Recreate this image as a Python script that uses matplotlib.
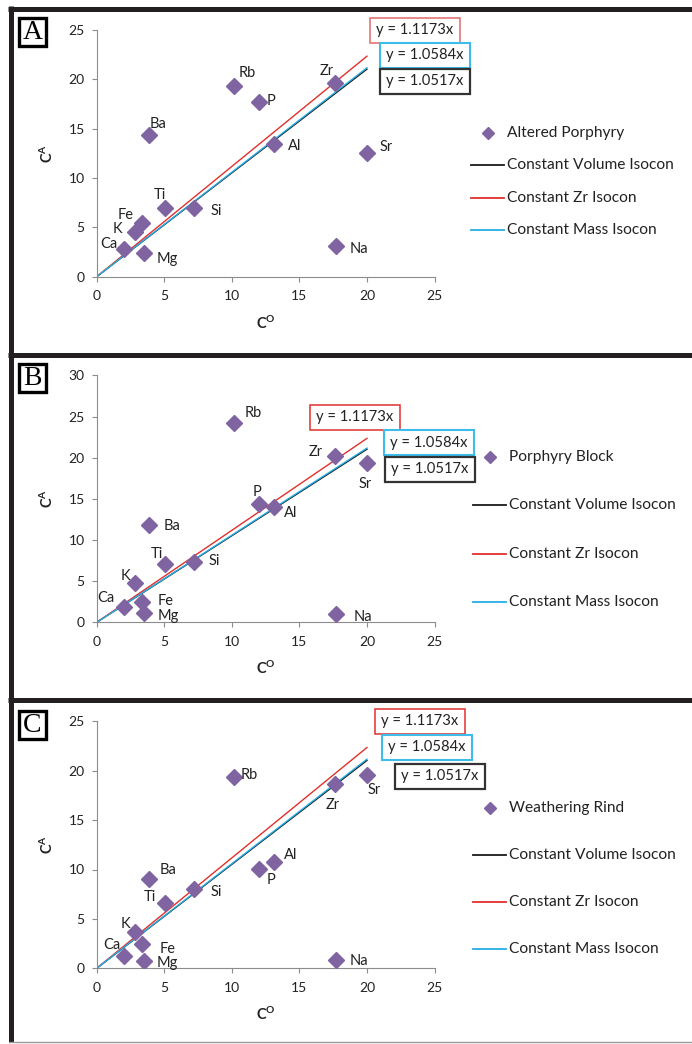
import matplotlib

matplotlib.use("Agg")
import matplotlib.pyplot as plt
from matplotlib.lines import Line2D
from matplotlib.patches import Rectangle

W, H = 692, 1044

# ---- data -------------------------------------------------------------
elements = ["Ca", "K", "Fe", "Mg", "Ti", "Si", "Ba", "Rb", "P", "Al", "Zr", "Na", "Sr"]
c_orig = [2.05, 2.81, 3.33, 3.5, 5.04, 7.2, 3.9, 10.15, 12.0, 13.1, 17.65, 17.7, 20.0]
c_altered = [2.77, 4.56, 5.47, 2.36, 6.99, 6.99, 14.36, 19.32, 17.7, 13.41, 19.66, 3.1, 12.5]
c_block = [1.9, 4.82, 2.47, 1.17, 7.04, 7.37, 11.86, 24.2, 14.33, 13.97, 20.24, 1.01, 19.35]
c_rind = [1.25, 3.71, 2.46, 0.74, 6.58, 7.99, 9.04, 19.33, 10.02, 10.76, 18.62, 0.84, 19.53]
series_names = ["Altered Porphyry", "Porphyry Block", "Weathering Rind"]
panel_letters = ["A", "B", "C"]

iso_names = ["Constant Volume Isocon", "Constant Zr Isocon", "Constant Mass Isocon"]
iso_slopes = [1.0517, 1.1173, 1.0584]
iso_x = [0, 20]

# ---- styling / positions (pixels of the 692x1044 canvas) -------------
PURPLE = "#8064A2"
ISO_COLORS = ["#1a1a1a", "#E0302C", "#25AEE4"]
SPINE = "#8c8c8c"
INK = "#222222"

# axes rectangles: left, top, right, bottom (px)
AX_PX = [(96.7, 30.0, 434.5, 276.7), (96.7, 375.4, 434.5, 622.3), (96.7, 721.3, 434.5, 968.3)]
YMAX = [25, 30, 25]

# point label offsets (px) per panel
LBL_OFF = [
    {"Ca": (-16, 5), "K": (-17, 3), "Fe": (-16, 8), "Mg": (23, -6), "Ti": (-5, 13), "Si": (22, -3),
     "Ba": (9, 11), "Rb": (13, 13), "P": (12, 1), "Al": (21, -2), "Zr": (-8, 12), "Na": (23, -3),
     "Sr": (19, 6)},
    {"Ca": (-19, 9), "K": (-9, 7), "Fe": (24, 1), "Mg": (24, -3), "Ti": (-8, 10), "Si": (20, 1),
     "Ba": (23, -1), "Rb": (19, 10), "P": (-2, 12), "Al": (17, -6), "Zr": (-19, 4), "Na": (27, -3),
     "Sr": (-2, -21)},
    {"Ca": (-13, 11), "K": (-9, 8), "Fe": (26, -5), "Mg": (23, -2), "Ti": (-15, 6), "Si": (22, -3),
     "Ba": (19, 9), "Rb": (15, 2), "P": (12, -11), "Al": (17, 7), "Zr": (-2, -21), "Na": (23, -1),
     "Sr": (7, -15)},
]

# equation boxes: (center x, center y) px for red, cyan, black
EQ_POS = [
    [(415, 30), (424.5, 55.5), (424.5, 81.5)],
    [(355, 417.5), (428.5, 442.5), (430, 469.5)],
    [(419.5, 721), (426.5, 747.5), (439.5, 776)],
]
EQ_TEXT = ["y = 1.1173x", "y = 1.0584x", "y = 1.0517x"]
EQ_EDGE = [("#E06A6A", "#E0302C", "#E0302C"), "#3DBDEB", "#333333"]

# legend: (handle left x, first row y, row spacing) px
LEG_POS = [(471, 133, 32.3), (473, 457, 48.3), (473, 808, 47.0)]

# frame bars (y centres) px
BAR_Y = [8.5, 354.5, 699.5]


def fx(x):
    return x / W


def fy(y):
    return 1 - y / H


plt.rcParams.update(
    {
        "font.family": ["Lato", "DejaVu Sans"],
        "mathtext.fontset": "custom",
        "mathtext.rm": "Lato",
        "mathtext.bf": "Lato:bold",
    }
)

fig = plt.figure(figsize=(W / 100, H / 100), dpi=100)

# outer frame lines
for yb in BAR_Y:
    fig.add_artist(Line2D([fx(8), 1.0], [fy(yb), fy(yb)], color="#231F20", lw=3.6, solid_capstyle="butt"))
fig.add_artist(Line2D([fx(10.5), fx(10.5)], [fy(6), fy(1042)], color="#231F20", lw=3.6, solid_capstyle="butt"))
fig.add_artist(Line2D([fx(10), 1.0], [fy(1041.5), fy(1041.5)], color="#9a9a9a", lw=1.0))

panels = [c_altered, c_block, c_rind]
for i, c_alt in enumerate(panels):
    l, t, r, b = AX_PX[i]
    ax = fig.add_axes([fx(l), fy(b), (r - l) / W, (b - t) / H])
    ax.set_xlim(0, 25)
    ax.set_ylim(0, YMAX[i])
    ax.set_xticks(range(0, 26, 5))
    ax.set_yticks(range(0, YMAX[i] + 1, 5))
    for s in ("top", "right"):
        ax.spines[s].set_visible(False)
    for s in ("left", "bottom"):
        ax.spines[s].set_color(SPINE)
        ax.spines[s].set_linewidth(0.8)
    ax.tick_params(direction="out", length=3.6, width=0.8, color=SPINE, labelsize=10, labelcolor=INK)
    ax.tick_params(axis="x", pad=6)
    ax.tick_params(axis="y", pad=5)
    ax.patch.set_alpha(0)

    pts = ax.plot(c_orig, c_alt, linestyle="none", marker="D", ms=8.5, color=PURPLE,
                  mec=PURPLE, label=series_names[i], zorder=3)[0]
    handles = [pts]
    for name, slope, col in zip(iso_names, iso_slopes, ISO_COLORS):
        ln = ax.plot(iso_x, [slope * v for v in iso_x], color=col, lw=1.0, label=name, zorder=2)[0]
        handles.append(ln)

    for el, x0, y0 in zip(elements, c_orig, c_alt):
        dx, dy = LBL_OFF[i][el]
        ax.annotate(el, (x0, y0), xytext=(dx, dy), textcoords="offset pixels",
                    ha="center", va="center", fontsize=10.5, color=INK, zorder=4)

    ax.set_xlabel(r"$\mathbf{C^{O}}$", fontsize=10.5, color=INK, labelpad=9)
    ax.set_ylabel(r"$\mathbf{C^{A}}$", fontsize=10.5, color=INK, labelpad=9)

    # legend, placed by hand
    hx, hy, dy_row = LEG_POS[i]
    for k, h in enumerate(handles):
        yy = hy + k * dy_row
        if k == 0:
            fig.add_artist(Line2D([fx(hx + 16.5)], [fy(yy)], marker="D", ms=6.5, color=PURPLE, ls="none"))
        else:
            fig.add_artist(Line2D([fx(hx), fx(hx + 33)], [fy(yy), fy(yy)], color=h.get_color(), lw=1.3))
        fig.text(fx(hx + 36), fy(yy), h.get_label(), ha="left", va="center", fontsize=11.2, color=INK)

    # equation boxes
    edges = [EQ_EDGE[0][i], EQ_EDGE[1], EQ_EDGE[2]]
    lws = [1.1, 1.5, 1.6]
    for (cx, cy), txt, ec, lw in zip(EQ_POS[i], EQ_TEXT, edges, lws):
        fig.add_artist(Rectangle((fx(cx - 45), fy(cy + 12.5)), 90 / W, 25 / H, transform=fig.transFigure,
                                 facecolor="white", edgecolor=ec, lw=lw))
        fig.text(fx(cx), fy(cy), txt, ha="center", va="center", fontsize=10.6, color=INK)

    # panel letter box
    top = [18, 364, 711][i]
    fig.add_artist(Rectangle((fx(19), fy(top + 28)), 27 / W, 28 / H, transform=fig.transFigure,
                             facecolor="white", edgecolor="black", lw=2.4))
    fig.text(fx(32.5), fy(top + 14.5), panel_letters[i], ha="center", va="center",
             fontsize=20, family="Liberation Serif", color="black")

fig.savefig("out.png", dpi=100, facecolor="white")
